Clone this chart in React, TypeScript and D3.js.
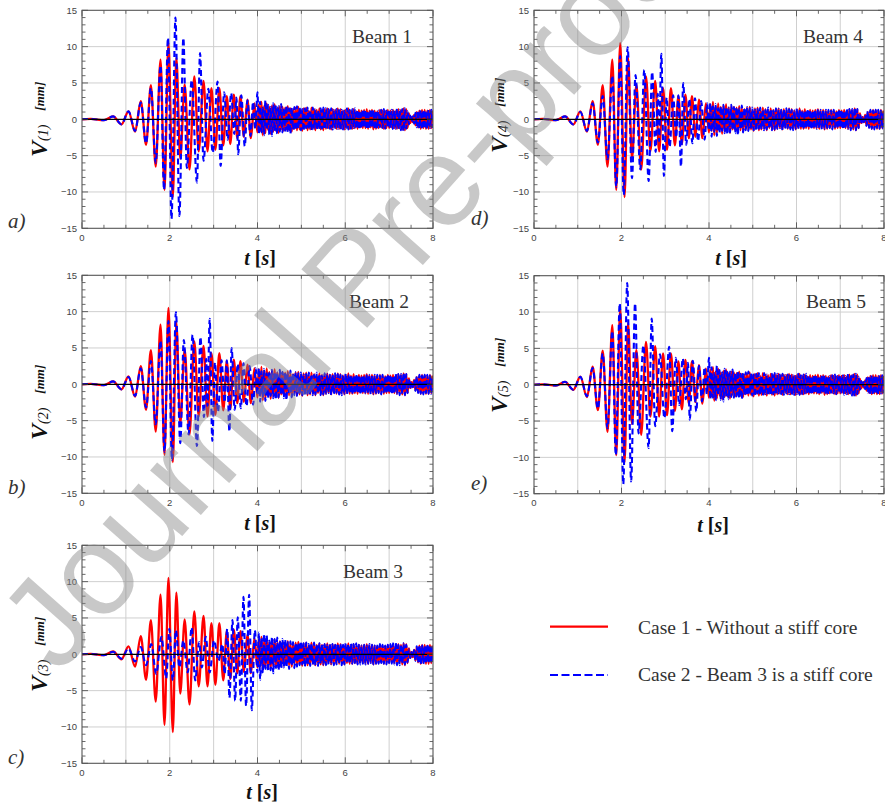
import React from "react";
import * as d3 from "d3";

type Pt = [number, number];

// ---------- axis ticks ----------
const xTickLabels = [0, 2, 4, 6, 8];
const yTickLabels = [-15, -10, -5, 0, 5, 10, 15];
const xGridValues = [1, 2, 3, 4, 5, 6, 7];
const yGridValues = [-10, -5, 5, 10];

// ---------- Case 1 (red, identical for all beams): extrema ----------
const case1Early: Pt[] = [
  [0, 0], [0.2, 0.05], [0.5, -0.12], [0.71, 0.4], [0.9, -0.7], [1.06, 1.1], [1.21, -1.7],
  [1.34, 2.5], [1.46, -3.5], [1.57, 4.7], [1.68, -6.5], [1.79, 8.2], [1.88, -9.7], [1.97, 10.5],
  [2.07, -10.7], [2.15, 8.5], [2.24, -5.4], [2.34, 4.8], [2.45, -6.9], [2.56, 5.9], [2.66, -4.4],
  [2.77, 5.3], [2.86, -4.4], [2.95, 4.3], [3.04, -4.2], [3.13, 4.3], [3.22, -3.6], [3.3, 3.2],
  [3.38, -3.4], [3.46, 3.4], [3.54, -2.6], [3.61, 3.2], [3.69, -2.4], [3.77, 2.7], [3.85, -2.6],
  [3.93, 2.2], [4.0, -1.8],
];
// dense tail after 4 s: successive extrema from 4.03 s, one every 0.03 s
const case1Tail = [
  2.1, -1.6, 2.4, -2.2, 1.8, -1.9, 2.2, -1.5, 1.7, -2.0,
  1.9, -1.7, 2.1, -1.6, 1.6, -1.9, 1.8, -1.4, 1.7, -1.6,
  1.6, -1.4, 1.8, -1.5, 1.5, -1.7, 1.4, -1.3, 1.6, -1.5,
  1.7, -1.4, 1.3, -1.6, 1.5, -1.2, 1.6, -1.5, 1.2, -1.4,
  1.6, -1.3, 1.4, -1.5, 1.3, -1.2, 1.5, -1.4, 1.3, -1.5,
  1.4, -1.3, 1.5, -1.2, 1.3, -1.4, 1.4, -1.1, 1.3, -1.3,
  1.5, -1.3, 1.4, -1.2, 1.2, -1.4, 1.3, -1.2, 1.5, -1.3,
  1.2, -1.3, 1.4, -1.2, 1.1, -1.3, 1.3, -1.1, 1.2, -1.2,
  1.3, -1.2, 1.4, -1.3, 1.2, -1.1, 1.3, -1.4, 1.2, -1.3,
  1.1, -1.2, 1.3, -1.1, 1.2, -1.3, 1.1, -1.2, 1.3, -1.2,
  1.2, -1.1, 1.3, -1.2, 1.1, -1.3, 1.4, -1.2, 1.3, -1.4,
  1.5, -1.5, 1.4, -1.2, 0.8, -0.5, 0.3, -0.4, 0.6, -0.8,
  1.0, -1.1, 1.2, -1.3, 1.3, -1.2, 1.3, -1.3, 1.2, -1.3, 1.3, -1.2, 1.2,
];

// ---------- Case 2 (blue dashed) ----------
// Beams 1 and 5
const case2Beam15Early: Pt[] = [
  [0, 0], [0.2, 0.05], [0.5, -0.12], [0.71, 0.4], [0.9, -0.7], [1.06, 1.1], [1.21, -1.6],
  [1.34, 2.3], [1.46, -3.3], [1.57, 4.3], [1.68, -6.0], [1.79, 7.4], [1.87, -9.7], [1.96, 11.2],
  [2.04, -13.7], [2.13, 14.0], [2.22, -13.3], [2.31, 11.2], [2.39, -6.7], [2.5, 5.4], [2.62, -8.7],
  [2.69, 9.1], [2.77, -5.7], [2.88, 4.2], [2.98, -4.6], [3.09, 5.2], [3.16, -6.4], [3.24, 3.7],
  [3.32, -2.8], [3.4, 3.6], [3.47, -2.0], [3.52, 3.0], [3.56, -4.8], [3.63, 3.3], [3.71, -3.7],
  [3.77, 2.6], [3.84, -2.3], [3.9, 2.4], [3.95, -1.3], [4.0, 3.7],
];
const case2Beam15Tail = [
  -2.0, 2.4, -1.8, 1.6, -2.2, 2.6, -1.5, 2.0, -2.1, 1.7,
  -2.3, 2.2, -1.6, 1.9, -2.0, 1.8, -1.7, 2.1, -1.8, 1.6,
  -1.6, 1.9, -1.8, 1.5, -2.0, 1.6, -1.4, 1.7, -1.5, 1.8,
  -1.3, 1.6, -1.5, 1.4, -1.6, 1.5, -1.2, 1.6, -1.4, 1.3,
  -1.5, 1.6, -1.3, 1.4, -1.5, 1.2, -1.4, 1.5, -1.3, 1.6,
  -1.4, 1.5, -1.2, 1.4, -1.3, 1.5, -1.4, 1.3, -1.2, 1.4,
  -1.3, 1.4, -1.5, 1.3, -1.4, 1.2, -1.3, 1.5, -1.4, 1.3,
  -1.3, 1.4, -1.2, 1.5, -1.3, 1.3, -1.4, 1.2, -1.3, 1.4,
  -1.2, 1.3, -1.4, 1.2, -1.3, 1.4, -1.2, 1.3, -1.4, 1.2,
  -1.3, 1.2, -1.1, 1.3, -1.2, 1.4, -1.3, 1.2, -1.1, 1.3,
  -1.2, 1.3, -1.4, 1.2, -1.3, 1.5, -1.4, 1.3, -1.5, 1.4,
  -1.6, 1.5, -1.3, 1.1, -0.7, 0.5, -0.3, 0.4, -0.6, 0.9,
  -1.1, 1.2, -1.3, 1.3, -1.4, 1.3, -1.3, 1.2, -1.3, 1.3, -1.2, 1.3, -1.2,
];
// Beams 2 and 4
const case2Beam24Early: Pt[] = [
  [0, 0], [0.2, 0.05], [0.5, -0.12], [0.71, 0.4], [0.9, -0.7], [1.06, 1.0], [1.21, -1.6],
  [1.34, 2.2], [1.46, -3.2], [1.57, 3.2], [1.68, -5.5], [1.79, 6.0], [1.88, -9.3], [1.97, 8.7],
  [2.05, -10.4], [2.14, 9.9], [2.24, -8.1], [2.32, 6.1], [2.43, -6.9], [2.52, 6.8], [2.62, -8.5],
  [2.7, 6.5], [2.78, -4.5], [2.83, 3.5], [2.86, -3.0], [2.91, 9.0], [2.97, -7.8], [3.03, 3.0],
  [3.1, -3.8], [3.18, 3.3], [3.25, -2.5], [3.3, 3.3], [3.36, -6.5], [3.41, 5.0], [3.48, -3.5],
  [3.55, 2.8], [3.62, -3.3], [3.68, 2.9], [3.75, -3.0], [3.82, 2.5], [3.9, -2.8], [3.96, 2.2],
  [4.0, -1.5],
];
const case2Beam24Tail = [
  2.2, -2.4, 1.8, -1.7, 2.1, -2.3, 1.5, -1.9, 1.8, -1.6,
  2.0, -1.9, 1.7, -2.1, 1.6, -1.8, 2.0, -1.5, 1.7, -1.9,
  1.7, -2.2, 1.5, -1.4, 1.9, -1.8, 1.6, -1.5, 1.7, -1.6,
  1.5, -1.4, 1.6, -1.5, 1.3, -1.6, 1.4, -1.3, 1.6, -1.4,
  1.4, -1.5, 1.3, -1.4, 1.6, -1.3, 1.4, -1.5, 1.2, -1.4,
  1.5, -1.3, 1.4, -1.2, 1.3, -1.5, 1.4, -1.3, 1.5, -1.2,
  1.4, -1.4, 1.3, -1.5, 1.2, -1.3, 1.5, -1.4, 1.3, -1.2,
  1.3, -1.4, 1.2, -1.3, 1.4, -1.2, 1.3, -1.4, 1.2, -1.3,
  1.2, -1.3, 1.4, -1.2, 1.3, -1.4, 1.2, -1.3, 1.3, -1.2,
  1.3, -1.2, 1.2, -1.4, 1.3, -1.1, 1.2, -1.3, 1.4, -1.2,
  1.3, -1.4, 1.2, -1.3, 1.5, -1.3, 1.4, -1.5, 1.4, -1.3,
  1.6, -1.5, 1.4, -1.2, 0.7, -0.6, 0.3, -0.4, 0.6, -0.9,
  1.1, -1.2, 1.3, -1.3, 1.2, -1.4, 1.3, -1.2, 1.3, -1.3, 1.2, -1.3, 1.2,
];
// Beam 3 (stiff core)
const case2Beam3Early: Pt[] = [
  [0, 0], [0.2, 0.05], [0.5, -0.12], [0.71, 0.35], [0.9, -0.6], [1.06, 0.8], [1.21, -1.0],
  [1.34, 1.0], [1.46, -1.5], [1.58, 1.4], [1.69, -2.7], [1.81, 2.4], [1.92, -3.3], [1.99, 3.5],
  [2.07, -3.6], [2.14, 3.3], [2.22, -1.8], [2.31, 1.9], [2.41, -2.5], [2.5, 3.7], [2.58, -3.6],
  [2.67, 1.7], [2.73, -1.8], [2.82, 2.4], [2.91, -2.5], [3.01, 1.9], [3.11, -0.9], [3.2, 1.4],
  [3.25, -2.7], [3.31, 3.5], [3.36, -6.0], [3.43, 4.7], [3.49, -6.4], [3.55, 5.1], [3.62, -6.4],
  [3.68, 7.9], [3.74, -7.1], [3.81, 8.2], [3.87, -7.7], [3.94, 3.3], [4.0, -2.5],
];
const case2Beam3Tail = [
  3.0, -3.5, 2.2, -2.6, 2.8, -2.0, 2.6, -2.4, 1.9, -2.2,
  2.4, -2.6, 2.1, -1.9, 2.3, -2.2, 1.8, -2.0, 2.1, -1.8,
  2.0, -1.8, 1.7, -2.0, 1.8, -1.6, 1.7, -1.9, 1.6, -1.7,
  1.6, -1.5, 1.8, -1.4, 1.5, -1.7, 1.6, -1.5, 1.4, -1.6,
  1.5, -1.4, 1.6, -1.5, 1.4, -1.6, 1.5, -1.3, 1.5, -1.4,
  1.4, -1.5, 1.3, -1.4, 1.5, -1.3, 1.4, -1.5, 1.3, -1.4,
  1.5, -1.3, 1.4, -1.5, 1.3, -1.4, 1.5, -1.2, 1.4, -1.3,
  1.5, -1.3, 1.4, -1.2, 1.5, -1.4, 1.3, -1.4, 1.2, -1.3,
  1.3, -1.4, 1.2, -1.3, 1.4, -1.2, 1.3, -1.4, 1.2, -1.3,
  1.2, -1.3, 1.4, -1.2, 1.3, -1.3, 1.2, -1.4, 1.3, -1.2,
  1.4, -1.3, 1.5, -1.4, 1.6, -1.5, 1.3, -1.5, 1.4, -1.3,
  1.5, -1.4, 1.3, -1.1, 0.7, -0.5, 0.3, -0.4, 0.6, -0.9,
  1.1, -1.2, 1.3, -1.4, 1.3, -1.3, 1.2, -1.3, 1.4, -1.2, 1.3, -1.3, 1.2,
];
const tailStart = 4.03;
const tailStep = 0.03;

const legendLabels = ["Case 1 - Without a stiff core", "Case 2 - Beam 3 is a stiff core"];

function series(early: Pt[], tail: number[]): Pt[] {
  return early.concat(tail.map((v, i) => [tailStart + i * tailStep, v] as Pt));
}

// ---------- layout ----------
const PH = 218;
const SERIF = "'Liberation Serif', 'Times New Roman', serif";
const SANS = "'Liberation Sans', Arial, sans-serif";

interface PanelCfg {
  id: string; beam: string; sub: string; blueEarly: Pt[]; blueTail: number[];
  x: number; y: number; w: number;
  labelX: number; labelY: number; tX: number; tY: number;
  letter: string; letterX: number; letterY: number; beamX: number; beamY: number;
}

const panels: PanelCfg[] = [
  { id: "a", beam: "Beam 1", sub: "(1)", blueEarly: case2Beam15Early, blueTail: case2Beam15Tail,
    x: 82, y: 10.3, w: 351, labelX: 47, labelY: 157, tX: 260, tY: 265,
    letter: "a)", letterX: 8, letterY: 228, beamX: 352, beamY: 43 },
  { id: "b", beam: "Beam 2", sub: "(2)", blueEarly: case2Beam24Early, blueTail: case2Beam24Tail,
    x: 82, y: 275.3, w: 351, labelX: 47, labelY: 440, tX: 260, tY: 530,
    letter: "b)", letterX: 8, letterY: 494, beamX: 349, beamY: 308 },
  { id: "c", beam: "Beam 3", sub: "(3)", blueEarly: case2Beam3Early, blueTail: case2Beam3Tail,
    x: 82, y: 545.3, w: 351, labelX: 47, labelY: 692, tX: 262, tY: 799,
    letter: "c)", letterX: 8, letterY: 764, beamX: 343, beamY: 578 },
  { id: "d", beam: "Beam 4", sub: "(4)", blueEarly: case2Beam24Early, blueTail: case2Beam24Tail,
    x: 534, y: 10.3, w: 350, labelX: 507, labelY: 153, tX: 731, tY: 265,
    letter: "d)", letterX: 471, letterY: 225, beamX: 803, beamY: 43 },
  { id: "e", beam: "Beam 5", sub: "(5)", blueEarly: case2Beam15Early, blueTail: case2Beam15Tail,
    x: 534, y: 275.7, w: 350, labelX: 507, labelY: 413, tX: 713, tY: 532,
    letter: "e)", letterX: 471, letterY: 490, beamX: 806, beamY: 308 },
];

function fmt(v: number) {
  return v < 0 ? "\u2212" + Math.abs(v) : String(v);
}

function Panel({ p }: { p: PanelCfg }) {
  const x = d3.scaleLinear().domain([0, 8]).range([p.x, p.x + p.w]);
  const y = d3.scaleLinear().domain([-15, 15]).range([p.y + PH, p.y]);
  const line = d3.line<Pt>().x((d) => x(d[0])).y((d) => y(d[1])).curve(d3.curveMonotoneX);
  const red = series(case1Early, case1Tail);
  const blue = series(p.blueEarly, p.blueTail);
  const clipId = `clip-${p.id}`;
  const xTicks = d3.range(0, 8.001, 0.5);
  const yTicks = d3.range(-15, 15.001, 1);
  const x0 = p.x, x1 = p.x + p.w, y0 = p.y, y1 = p.y + PH;
  return (
    <g>
      <defs>
        <clipPath id={clipId}>
          <rect x={x0} y={y0} width={p.w} height={PH} />
        </clipPath>
      </defs>
      {xGridValues.map((v) => (
        <line key={"gx" + v} x1={x(v)} x2={x(v)} y1={y0} y2={y1} stroke="#cfcfcf" strokeWidth={1} />
      ))}
      {yGridValues.map((v) => (
        <line key={"gy" + v} x1={x0} x2={x1} y1={y(v)} y2={y(v)} stroke="#cfcfcf" strokeWidth={1} />
      ))}
      <g clipPath={`url(#${clipId})`}>
        <path d={line(red) || ""} fill="none" stroke="#ff0000" strokeWidth={2.3} strokeLinejoin="round" />
        <path d={line(blue) || ""} fill="none" stroke="#0000ff" strokeWidth={2.1}
          strokeDasharray="6 3.5" strokeLinejoin="round" />
      </g>
      <line x1={x0} x2={x1} y1={y(0)} y2={y(0)} stroke="#000" strokeWidth={1.3} />
      {xTicks.map((v) => {
        const len = v % 2 === 0 ? 6 : 3.5;
        return (
          <g key={"tx" + v}>
            <line x1={x(v)} x2={x(v)} y1={y1} y2={y1 - len} stroke="#444" strokeWidth={0.8} />
            <line x1={x(v)} x2={x(v)} y1={y0} y2={y0 + len} stroke="#444" strokeWidth={0.8} />
          </g>
        );
      })}
      {yTicks.map((v) => {
        const len = v % 5 === 0 ? 6 : 3.5;
        return (
          <g key={"ty" + v}>
            <line x1={x0} x2={x0 + len} y1={y(v)} y2={y(v)} stroke="#444" strokeWidth={0.8} />
            <line x1={x1} x2={x1 - len} y1={y(v)} y2={y(v)} stroke="#444" strokeWidth={0.8} />
          </g>
        );
      })}
      <rect x={x0} y={y0} width={p.w} height={PH} fill="none" stroke="#555" strokeWidth={1.1} />
      {xTickLabels.map((v) => (
        <text key={"lx" + v} x={x(v)} y={y1 + 12.5} textAnchor="middle" fontFamily={SANS}
          fontSize={9.5} fill="#444">{fmt(v)}</text>
      ))}
      {yTickLabels.map((v) => (
        <text key={"ly" + v} x={x0 - 5} y={y(v) + 3.3} textAnchor="end" fontFamily={SANS}
          fontSize={9.5} fill="#444">{fmt(v)}</text>
      ))}
      <text x={p.tX} y={p.tY} textAnchor="middle" fontFamily={SERIF} fontSize={20}
        fontWeight="bold" fill="#111">
        <tspan fontStyle="italic">t</tspan>
        <tspan> [</tspan>
        <tspan fontStyle="italic">s</tspan>
        <tspan>]</tspan>
      </text>
      <text transform={`translate(${p.labelX},${p.labelY}) rotate(-90)`} fontFamily={SERIF} fill="#111">
        <tspan fontSize={24} fontWeight="bold" fontStyle="italic">V</tspan>
        <tspan fontSize={14} fontStyle="italic" dy={1}>{p.sub}</tspan>
        <tspan fontSize={13} fontWeight="bold" fontStyle="italic" dx={14} dy={-4}>[mm]</tspan>
      </text>
      <text x={p.beamX} y={p.beamY} fontFamily={SERIF} fontSize={19.5} fill="#333">{p.beam}</text>
      <text x={p.letterX} y={p.letterY} fontFamily={SERIF} fontStyle="italic" fontSize={21} fill="#333">
        {p.letter}
      </text>
    </g>
  );
}

export default function App() {
  return (
    <div style={{ position: "absolute", left: 0, top: 0 }}>
      <svg width={885} height={805} style={{ display: "block", background: "#fff" }}>
        <rect x={0} y={0} width={885} height={805} fill="#fff" />
        {panels.map((p) => (
          <Panel key={p.id} p={p} />
        ))}
        <line x1={550} x2={608} y1={626.7} y2={626.7} stroke="#ff0000" strokeWidth={2.3} />
        <text x={638} y={634} fontFamily={SERIF} fontSize={19.5} fill="#333">{legendLabels[0]}</text>
        <line x1={550} x2={608} y1={675} y2={675} stroke="#0000ff" strokeWidth={2.1} strokeDasharray="8 3.5" />
        <text x={638} y={681} fontFamily={SERIF} fontSize={19.5} fill="#333">{legendLabels[1]}</text>
        <text transform="translate(58,676) rotate(-48.4)" fontFamily={SANS} fontSize={128}
          fill="#858585" fillOpacity={0.45}>Journal Pre-proof</text>
      </svg>
    </div>
  );
}
